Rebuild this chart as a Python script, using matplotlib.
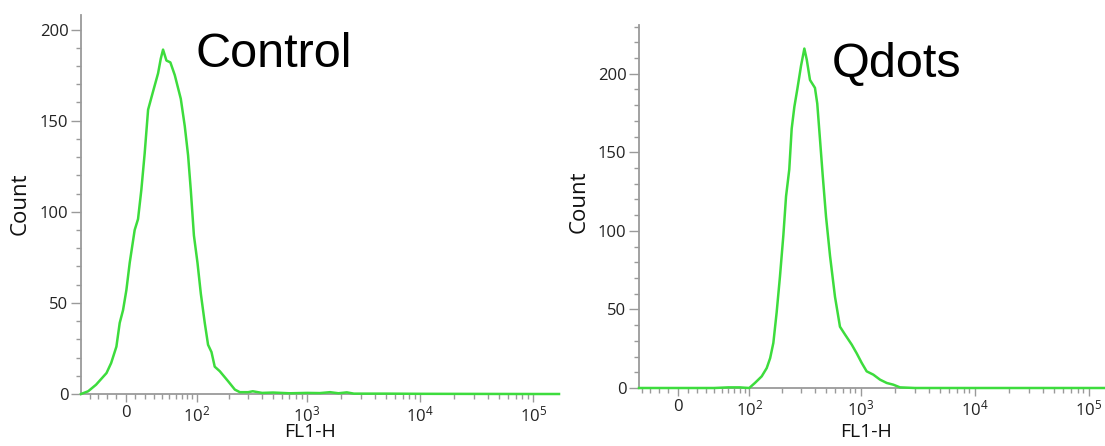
import numpy as np
import matplotlib
matplotlib.use("Agg")
import matplotlib.pyplot as plt

# Control histogram (FL1-H intensity, count)
ctrl_x = [-52, -42, -32, -20, -15, -9.5, -6.1, -2.7, 0.7, 4.1, 9.2, 12.7, 16.2, 19.8,
          23.6, 29.3, 35.4, 38.8, 41.8, 46.4, 52, 58.7, 68.6, 75.7, 82, 87.4, 94, 102,
          110, 120, 129, 139, 149, 166, 198, 228, 253, 300, 330, 400, 500, 700, 1000,
          1300, 1600, 1900, 2250, 2600, 5000, 10000, 100000, 169000]
ctrl_y = [0, 1.5, 5.1, 11.5, 17, 26, 39, 46, 57, 72, 90, 96, 112, 132,
          156, 166, 176, 184, 189, 183, 182, 175, 162, 147, 131, 112, 87, 72,
          55, 39, 27, 23, 15, 12.5, 7, 2.4, 1, 1, 1.5, 0.6, 0.8, 0.4, 0.6,
          0.5, 1.0, 0.4, 0.9, 0.2, 0.2, 0.1, 0, 0]

# Qdots histogram
qd_x = [-43.5, 0, 40, 60, 80, 99.5, 113, 131, 146, 157, 168, 180, 193, 207, 219, 234,
        246, 260, 276, 298, 319, 335, 358, 396, 415, 439, 464, 496, 538, 595, 658,
        729, 835, 924, 1021, 1129, 1291, 1480, 1694, 1937, 2214, 3000, 10000, 139000]
qd_y = [0, 0, 0, 0.4, 0.4, 0, 3.2, 7.4, 12.7, 19, 28.7, 48, 71, 97, 122, 139,
        165, 179, 190, 205, 216, 209, 196, 191, 181, 158, 135, 109, 84, 58, 39,
        34, 27.6, 22, 16, 10.6, 8.5, 5.3, 3.2, 2.1, 0.4, 0, 0, 0]

major_x = [0, 100, 1000, 10000, 100000]
major_lbl = ["0", r"$\mathregular{10^{2}}$", r"$\mathregular{10^{3}}$",
             r"$\mathregular{10^{4}}$", r"$\mathregular{10^{5}}$"]
minor_x = ([-40, -30, -20, -10] + list(range(10, 100, 10)) +
           [m * 10 ** e for e in (2, 3, 4) for m in range(2, 10)])

green = "#3ddc3d"
grey = "#9a9a9a"
W, H = 1105, 446


def fwd(v):
    return np.arcsinh(np.asarray(v, dtype=float) / 50.0) / np.log(10)


def inv(u):
    return 50.0 * np.sinh(np.asarray(u, dtype=float) * np.log(10))


plt.rcParams['font.family'] = ['Open Sans', 'DejaVu Sans']
fig = plt.figure(figsize=(W / 100, H / 100), dpi=100)


def panel(box, xs, ys, xlim, ymax, title, tpos, ylab_pos, xlab_pos):
    l, r, b, t = box
    ax = fig.add_axes([l / W, 1 - b / H, (r - l) / W, (b - t) / H])
    ax.set_xscale('function', functions=(fwd, inv))
    ax.plot(xs, ys, color=green, lw=1.8, zorder=3, clip_on=False)
    ax.set_xlim(*xlim)
    ax.set_ylim(0, ymax)
    for s in ("top", "right"):
        ax.spines[s].set_visible(False)
    for s in ("left", "bottom"):
        ax.spines[s].set_color(grey)
        ax.spines[s].set_linewidth(1.3)
    ax.set_xticks(major_x)
    ax.set_xticklabels(major_lbl)
    ax.set_xticks(minor_x, minor=True)
    ax.set_yticks(range(0, 201, 50))
    ax.set_yticks(range(10, int(ymax) + 1, 10), minor=True)
    ax.tick_params(which='major', color=grey, width=1, labelsize=12,
                   labelcolor="#222222", pad=2)
    ax.tick_params(axis='x', which='major', length=6)
    ax.tick_params(axis='y', which='major', length=7)
    ax.tick_params(which='minor', color=grey, width=1, length=3.5)
    ax.set_ylabel("Count", fontsize=16, color="#111111")
    ax.yaxis.label.set_va('center')
    ax.yaxis.set_label_coords((ylab_pos[0] - l) / (r - l), (b - ylab_pos[1]) / (b - t))
    ax.set_xlabel("FL1-H", fontsize=14, color="#111111")
    ax.xaxis.label.set_va('center')
    ax.xaxis.set_label_coords((xlab_pos[0] - l) / (r - l), (b - xlab_pos[1]) / (b - t))
    fig.text(tpos[0] / W, 1 - tpos[1] / H, title, fontsize=35,
             family='Liberation Sans', ha='left', va='baseline')
    return ax


panel((81, 559, 394, 15), ctrl_x, ctrl_y, (-52, 169000), 208, "Control",
      (195, 67), (20, 204), (310, 432))
panel((639, 1105, 388, 25), qd_x, qd_y, (-43.5, 139000), 231, "Qdots",
      (832, 77), (579, 202), (866, 432))

fig.savefig("out.png", dpi=100)
